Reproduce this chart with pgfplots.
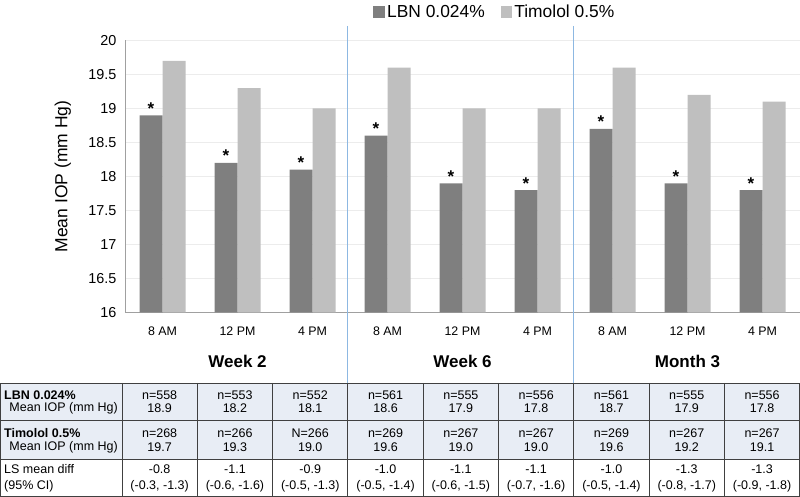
\documentclass[border=0pt]{standalone}
\usepackage{pgfplots}
\pgfplotsset{compat=1.18}
\usepackage{fontspec}
\setmainfont{Liberation Sans}
\definecolor{lbn}{HTML}{7F7F7F}
\definecolor{tim}{HTML}{BFBFBF}
\definecolor{sepblue}{HTML}{8DB8E2}
\definecolor{rowfill}{HTML}{E8EDF5}
\definecolor{axgray}{HTML}{A0A0A0}
\definecolor{gridgray}{HTML}{ECECEC}
\definecolor{tabline}{HTML}{404040}

\begin{document}
\begin{tikzpicture}
\begin{axis}[
  at={(125pt,184.5pt)}, anchor=south west,
  scale only axis, width=675pt, height=272pt,
  xmin=-0.5, xmax=8.5, ymin=16, ymax=20,
  ybar=0pt, bar width=23pt,
  axis lines=left, axis line style={axgray, line width=1pt, -},
  major tick length=0pt,
  xtick={0,...,8},
  xticklabels={8 AM,12 PM,4 PM,8 AM,12 PM,4 PM,8 AM,12 PM,4 PM},
  xticklabel style={anchor=center, yshift=-19pt, font=\fontsize{12.4}{14}\selectfont},
  ytick={16,16.5,...,20},
  yticklabel style={/pgf/number format/fixed, /pgf/number format/precision=1,
    /pgf/number format/assume math mode=true, font=\fontsize{14.4}{16}\selectfont, xshift=-5pt},
  ymajorgrids, grid style={gridgray, line width=0.8pt},
  ylabel={Mean IOP (mm Hg)},
  every axis y label/.style={at={(axis description cs:-0.092,0.5)}, rotate=90, anchor=center,
    font=\fontsize{17.5}{20}\selectfont},
  clip=false,
  legend style={at={(0.548,1.105)}, anchor=center, draw=none, fill=none,
    font=\fontsize{17.4}{20}\selectfont,
    /tikz/every even column/.append style={column sep=14pt}},
  legend columns=2,
  legend image code/.code={\fill[#1] (0pt,-5.8pt) rectangle (11.6pt,5.8pt);},
]
\addplot[fill=lbn, draw=none, nodes near coords={*},
  every node near coord/.append style={anchor=base, inner sep=0pt, yshift=1pt,
    font=\bfseries\fontsize{17}{17}\selectfont, text=black}]
  coordinates {(0,18.9) (1,18.2) (2,18.1) (3,18.6) (4,17.9) (5,17.8) (6,18.7) (7,17.9) (8,17.8)};
\addlegendentry{LBN 0.024\%}
\addplot[fill=tim, draw=none]
  coordinates {(0,19.7) (1,19.3) (2,19.0) (3,19.6) (4,19.0) (5,19.0) (6,19.6) (7,19.2) (8,19.1)};
\addlegendentry{Timolol 0.5\%}
\node[font=\bfseries\fontsize{17}{20}\selectfont] at (axis cs:1,16) [yshift=-48.5pt] {Week 2};
\node[font=\bfseries\fontsize{17}{20}\selectfont] at (axis cs:4,16) [yshift=-48.5pt] {Week 6};
\node[font=\bfseries\fontsize{17}{20}\selectfont] at (axis cs:7,16) [yshift=-48.5pt] {Month 3};
\end{axis}

% table under the chart, y measured from the top
\begin{scope}[shift={(0pt,497pt)}, x=1pt, y=-1pt]
  \fill[rowfill] (0.5,383) rectangle (799.5,459);
  \draw[sepblue, line width=1pt] (347.9,26) -- (347.9,383);
  \draw[sepblue, line width=1pt] (573.8,26) -- (573.8,383);
  \draw[tabline, line width=0.9pt] (0.5,383) rectangle (799.5,496.5);
  \draw[tabline, line width=0.9pt] (0.5,420) -- (799.5,420);
  \draw[tabline, line width=0.9pt] (0.5,459) -- (799.5,459);
  \foreach \k in {0,...,8} {
    \draw[tabline, line width=0.9pt] ({122+75.3*\k},383) -- ({122+75.3*\k},496.5);
  }
  \begin{scope}[every node/.style={font=\fontsize{12.5}{14}\selectfont, inner sep=0pt}]
    \node[anchor=west, font=\bfseries\fontsize{12.5}{14}\selectfont] at (4,395) {LBN 0.024\%};
    \node[anchor=east] at (118,408) {Mean IOP (mm Hg)};
    \node[anchor=west, font=\bfseries\fontsize{12.5}{14}\selectfont] at (4,433) {Timolol 0.5\%};
    \node[anchor=east] at (118,447) {Mean IOP (mm Hg)};
    \node[anchor=west] at (4,469) {LS mean diff};
    \node[anchor=west] at (4,486) {(95\% CI)};
    \foreach \k/\na/\ma/\nb/\mb/\d/\ci in {
      0/n=558/18.9/n=268/19.7/-0.8/{(-0.3, -1.3)},
      1/n=553/18.2/n=266/19.3/-1.1/{(-0.6, -1.6)},
      2/n=552/18.1/N=266/19.0/-0.9/{(-0.5, -1.3)},
      3/n=561/18.6/n=269/19.6/-1.0/{(-0.5, -1.4)},
      4/n=555/17.9/n=267/19.0/-1.1/{(-0.6, -1.5)},
      5/n=556/17.8/n=267/19.0/-1.1/{(-0.7, -1.6)},
      6/n=561/18.7/n=269/19.6/-1.0/{(-0.5, -1.4)},
      7/n=555/17.9/n=267/19.2/-1.3/{(-0.8, -1.7)},
      8/n=556/17.8/n=267/19.1/-1.3/{(-0.9, -1.8)}} {
      \pgfmathsetmacro\cx{122+75.3*(\k+0.5)}
      \node at (\cx,395) {\na};
      \node at (\cx,408) {\ma};
      \node at (\cx,433) {\nb};
      \node at (\cx,447) {\mb};
      \node at (\cx,469) {\d};
      \node at (\cx,486) {\ci};
    }
  \end{scope}
\end{scope}
\pgfresetboundingbox
\path (0pt,0pt) rectangle (800pt,497pt);
\end{tikzpicture}
\end{document}
